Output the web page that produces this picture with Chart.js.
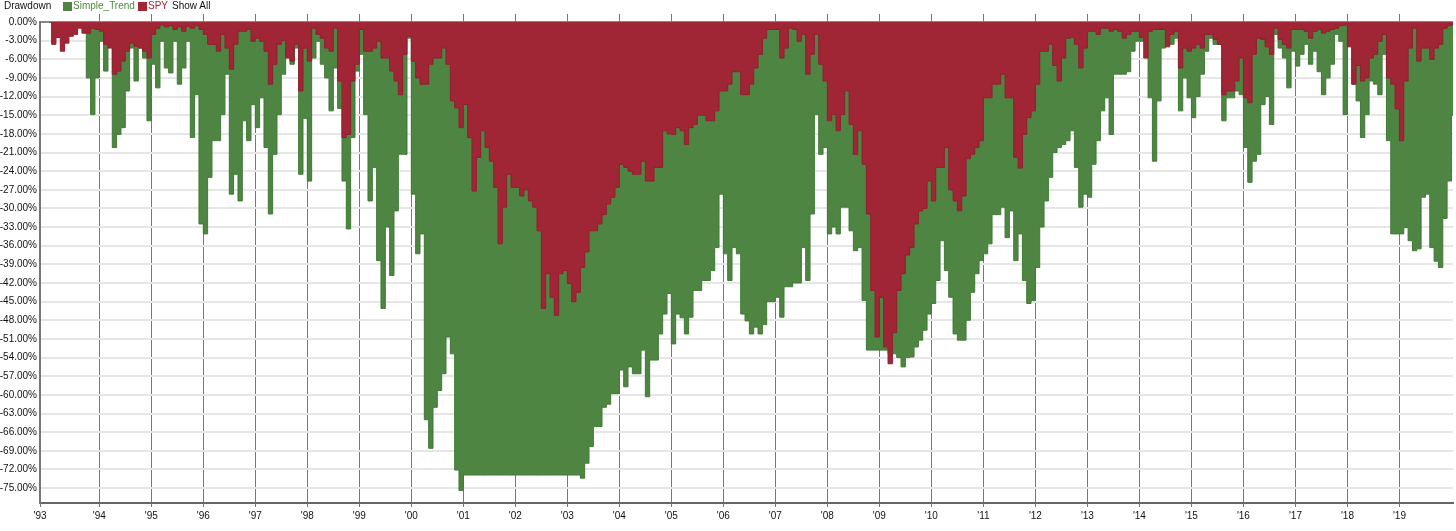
<!DOCTYPE html>
<html lang="en">
<head>
  <meta charset="UTF-8" />
  <title>Drawdown</title>
  <script src="https://cdn.jsdelivr.net/npm/chart.js"></script>
  <style>
    body { margin: 0; background: #fff; font-family: "Liberation Sans", Arial, sans-serif; }
    #wrap { position: relative; width: 1456px; height: 531px; }
    #chart { position: absolute; left: 0; top: 0; }
    .head span { position: absolute; top: 0; font-size: 10px; line-height: 12px; color: #111; white-space: nowrap; }
    .head .sw { top: 2px; width: 9px; height: 9px; }
  </style>
</head>
<body>
  <div id="wrap">
    <canvas id="chart" width="1456" height="531"></canvas>
    <div class="head">
      <span style="left:4px">Drawdown</span>
      <span class="sw" style="left:63px; background:#4e8542"></span>
      <span style="left:73px; color:#4e8a3e">Simple_Trend</span>
      <span class="sw" style="left:138px; background:#a02636"></span>
      <span style="left:148px; color:#a02636">SPY</span>
      <span style="left:172px">Show All</span>
    </div>
  </div>

  <script>
    // monthly drawdown (%) starting Jan 1993, one row per year
    const trendDD = [
      0, 0, 0, 0, 0, 0, 0, 0, 0, -9.0, -14.9, -9.0,
      -3.1, -7.9, -3.6, -20.2, -18.1, -17.0, -11.1, -4.2, -9.5, -4.2, -5.8, -15.9,
      -6.8, -10.6, -3.1, -7.4, -8.2, -3.1, -10.0, -7.4, -3.1, -18.6, -11.7, -32.5,
      -34.1, -25.0, -19.1, -19.1, -14.9, -8.4, -27.7, -24.5, -28.8, -15.9, -19.1, -13.3,
      -17.0, -12.2, -20.2, -30.9, -21.3, -14.9, -8.4, -4.2, -6.8, -4.2, -24.5, -15.5,
      -25.6, -5.8, -3.1, -6.8, -9.0, -14.3, -7.4, -13.9, -25.6, -33.3, -18.6, -7.9,
      -5.2, -14.9, -28.8, -23.4, -38.4, -46.1, -33.0, -40.8, -30.4, -21.3, -21.3, -2.6,
      -27.7, -37.3, -34.1, -64.0, -68.6, -62.0, -59.3, -56.6, -50.7, -53.4, -72.1, -75.4,
      -72.9, -72.9, -72.9, -72.9, -72.9, -72.9, -72.9, -72.9, -72.9, -72.9, -72.9, -72.9,
      -72.9, -72.9, -72.9, -72.9, -72.9, -72.9, -72.9, -72.9, -72.9, -72.9, -72.9, -72.9,
      -72.9, -72.9, -72.9, -73.4, -71.0, -68.3, -65.1, -65.1, -62.0, -61.5, -59.8, -59.8,
      -56.0, -58.7, -55.5, -56.6, -56.6, -52.8, -60.3, -54.4, -54.4, -50.2, -47.0, -43.7,
      -51.8, -47.0, -47.6, -50.2, -47.5, -43.2, -43.2, -41.6, -41.6, -40.0, -36.3, -27.7,
      -37.3, -41.6, -36.3, -37.3, -47.0, -48.1, -50.2, -49.1, -50.2, -48.7, -45.0, -45.0,
      -44.3, -47.5, -42.6, -42.6, -42.0, -42.0, -36.3, -41.6, -30.9, -14.9, -21.3, -20.2,
      -34.1, -33.0, -34.1, -29.8, -29.8, -33.6, -36.8, -36.3, -44.8, -52.8, -52.8, -52.8,
      -52.8, -52.8, -53.4, -53.4, -54.0, -55.5, -54.0, -53.9, -52.3, -51.2, -49.6, -47.0,
      -45.3, -41.6, -35.2, -40.0, -44.3, -50.2, -51.2, -51.2, -48.0, -43.5, -40.5, -38.4,
      -37.3, -35.7, -31.0, -31.0, -29.8, -34.7, -30.4, -38.4, -34.1, -41.6, -45.3, -44.8,
      -39.5, -33.0, -28.8, -25.0, -21.0, -20.2, -19.7, -19.1, -17.5, -23.4, -29.8, -27.7,
      -28.2, -22.9, -19.1, -14.3, -12.2, -18.1, -8.4, -8.4, -8.4, -8.0, -4.7, -3.1,
      -3.1, -2.0, -12.2, -22.4, -12.7, -4.2, -3.6, -3.6, -2.6, -14.3, -9.0, -12.2,
      -15.4, -12.0, -8.4, -4.7, -2.6, -3.6, -3.6, -15.9, -12.2, -12.2, -11.1, -11.7,
      -20.2, -25.8, -22.4, -21.3, -13.3, -12.0, -16.5, -2.0, -4.2, -5.8, -10.6, -4.7,
      -7.1, -5.2, -3.6, -6.8, -4.7, -8.0, -11.7, -9.0, -6.8, -2.0, -3.1, -14.9,
      -1.0, -10.0, -12.7, -18.6, -14.9, -9.5, -10.0, -11.7, -5.2, -19.1, -34.1, -34.1,
      -34.1, -33.1, -35.2, -36.8, -36.5, -28.2, -27.7, -36.3, -38.5, -39.5, -31.6, -25.6,
      -15.0
    ];

    const spyDD = [
      0, -3.6, -2.5, -4.7, -3.4, -2.3, -2.0, -1.0, -1.8, -1.8, -1.0, -1.2,
      -1.5, -3.6, -4.2, -8.4, -7.9, -6.3, -4.7, -3.4, -3.9, -4.2, -4.7, -5.8,
      -2.0, -1.0, -0.5, -0.8, -0.6, -1.2, -0.8, -1.5, -0.7, -1.0, -0.6, -1.2,
      -2.0, -3.6, -3.6, -4.7, -2.0, -4.2, -7.6, -3.6, -1.5, -1.5, -1.2, -3.1,
      -2.6, -3.1, -4.7, -10.0, -6.8, -3.6, -3.0, -5.8, -6.3, -3.6, -11.1, -4.2,
      -6.3, -1.0, -2.0, -2.6, -4.2, -4.7, -1.0, -9.5, -18.6, -18.1, -9.5, -6.8,
      -1.2, -4.7, -4.7, -4.2, -3.1, -5.8, -5.8, -7.9, -9.5, -11.7, -5.2, -2.3,
      -6.3, -9.0, -10.0, -10.0, -6.8, -5.8, -5.8, -4.2, -6.8, -12.7, -13.8, -17.0,
      -13.3, -18.6, -27.2, -21.8, -17.5, -20.2, -22.4, -26.6, -35.7, -29.8, -24.5, -26.6,
      -26.6, -28.0, -27.0, -28.8, -29.8, -33.6, -46.1, -40.5, -44.3, -47.2, -40.5, -40.0,
      -42.1, -45.0, -43.5, -39.5, -37.0, -33.6, -33.6, -32.5, -31.0, -29.3, -28.2, -26.6,
      -22.9, -23.4, -24.0, -24.5, -24.5, -22.4, -25.6, -25.6, -23.4, -23.4, -17.5, -18.0,
      -18.1, -17.0, -17.5, -19.7, -17.0, -16.5, -15.0, -15.0, -15.9, -15.9, -14.3, -11.1,
      -11.1, -10.0, -8.0, -8.0, -11.7, -11.7, -10.0, -7.4, -5.2, -2.6, -1.2, -1.2,
      -1.2, -5.8, -4.2, -1.0, -1.2, -3.1, -2.0, -8.4, -5.2, -2.0, -6.8, -9.5,
      -15.9, -14.9, -17.5, -14.9, -11.1, -16.5, -21.3, -17.5, -22.9, -30.9, -43.2, -50.7,
      -44.3, -52.3, -55.0, -50.0, -43.2, -40.5, -37.5, -36.3, -32.5, -30.4, -30.0, -25.6,
      -28.8, -23.4, -23.4, -20.2, -27.0, -28.8, -30.4, -28.0, -22.0, -21.3, -20.2, -19.1,
      -12.2, -12.2, -10.0, -10.0, -8.4, -12.2, -12.2, -21.8, -23.5, -18.1, -15.4, -14.3,
      -10.0, -4.7, -4.7, -3.6, -7.0, -9.5, -5.8, -2.6, -2.5, -3.6, -7.4, -4.2,
      -1.5, -1.5, -2.0, -1.0, -1.0, -1.5, -1.2, -1.5, -2.6, -2.0, -1.5, -1.5,
      -2.5, -5.8, -1.5, -1.2, -1.2, -1.2, -4.0, -2.0, -1.5, -7.4, -4.2, -4.7,
      -4.2, -3.6, -4.2, -2.0, -2.0, -2.8, -3.6, -11.7, -11.1, -11.1, -9.5, -5.8,
      -12.2, -13.0, -5.2, -2.6, -2.8, -4.0, -5.2, -1.0, -2.8, -3.6, -4.2, -1.2,
      -1.2, -1.2, -1.5, -2.6, -1.5, -1.2, -1.8, -1.5, -1.2, -1.0, -0.6, -0.5,
      -4.0, -10.0, -7.0, -9.5, -9.0, -5.8, -5.2, -3.1, -2.0, -9.0, -10.0, -14.0,
      -19.1, -9.5, -4.2, -1.0, -6.3, -4.2, -4.2, -6.0, -4.2, -3.6, -1.0, -0.6,
      -0.4
    ];

    const yearLabels = ["'93", "'94", "'95", "'96", "'97", "'98", "'99", "'00", "'01", "'02",
      "'03", "'04", "'05", "'06", "'07", "'08", "'09", "'10", "'11", "'12", "'13", "'14",
      "'15", "'16", "'17", "'18", "'19"];
    const yTickValues = [0, -3, -6, -9, -12, -15, -18, -21, -24, -27, -30, -33, -36, -39,
      -42, -45, -48, -51, -54, -57, -60, -63, -66, -69, -72, -75];

    const startYear = 1993;
    const xMin = 1992.86, xMax = 2020.03;

    function toPoints(arr) {
      return arr.map((v, i) => ({ x: startYear + (i + 0.5) / 12, y: v }));
    }

    const tickFont = { family: "'Liberation Sans', Arial, sans-serif", size: 10 };

    // year lines poke a little above the plot top, like the original
    const gridStubs = {
      id: "gridStubs",
      beforeDatasetsDraw(chart) {
        const { ctx, chartArea, scales } = chart;
        ctx.save();
        ctx.strokeStyle = "#777";
        ctx.lineWidth = 1;
        scales.x.ticks.forEach((t, i) => {
          if (i === 0) return;
          const px = Math.round(scales.x.getPixelForValue(t.value)) + 0.5;
          ctx.beginPath();
          ctx.moveTo(px, chartArea.top - 8);
          ctx.lineTo(px, chartArea.top);
          ctx.stroke();
        });
        ctx.restore();
      }
    };

    new Chart(document.getElementById("chart"), {
      type: "line",
      data: {
        datasets: [
          {
            label: "SPY",
            data: toPoints(spyDD),
            order: 0,
            stepped: "middle",
            borderColor: "#901f2f",
            backgroundColor: "#a02636",
            borderWidth: 1,
            pointRadius: 0,
            fill: "origin"
          },
          {
            label: "Simple_Trend",
            data: toPoints(trendDD),
            order: 1,
            stepped: "middle",
            borderColor: "#3f7a35",
            backgroundColor: "#4e8542",
            borderWidth: 1,
            pointRadius: 0,
            fill: "origin"
          }
        ]
      },
      options: {
        responsive: false,
        animation: false,
        layout: { padding: { top: 22, right: 3, left: 0, bottom: 0 } },
        plugins: { legend: { display: false }, tooltip: { enabled: false } },
        scales: {
          x: {
            type: "linear",
            min: xMin,
            max: xMax,
            afterBuildTicks: (scale) => {
              scale.ticks = yearLabels.map((l, i) => ({ value: i === 0 ? xMin : startYear + i }));
            },
            afterFit: (scale) => { scale.height = 28; },
            ticks: {
              autoSkip: false,
              maxRotation: 0,
              padding: 3,
              color: "#111",
              font: tickFont,
              callback: (v, i) => yearLabels[i]
            },
            grid: { color: "#777", lineWidth: 1, tickLength: 4 },
            border: { color: "#666", width: 2 }
          },
          y: {
            min: -77.4,
            max: 0,
            afterBuildTicks: (scale) => {
              scale.ticks = yTickValues.map(v => ({ value: v }));
            },
            afterFit: (scale) => { scale.width = 40; },
            ticks: {
              padding: 3,
              color: "#111",
              font: tickFont,
              callback: (v) => (v === 0 ? 0 : v).toFixed(2) + "%"
            },
            grid: {
              drawTicks: false,
              lineWidth: 2,
              color: (ctx) => (ctx.tick && ctx.tick.value === 0 ? "#888" : "#e6e6e6")
            },
            border: { color: "#777", width: 2 }
          }
        }
      },
      plugins: [gridStubs]
    });
  </script>
</body>
</html>
